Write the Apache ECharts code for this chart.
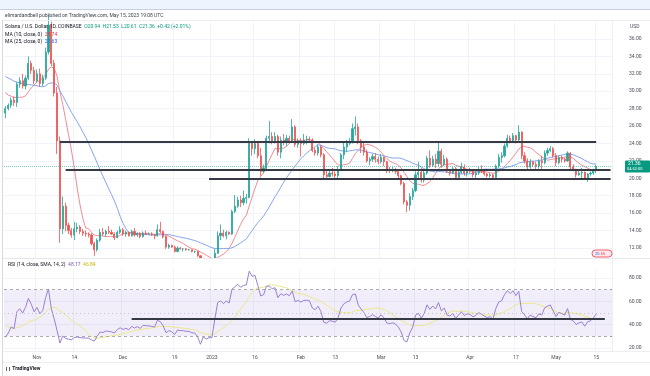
<!DOCTYPE html>
<html>
<head>
<meta charset="utf-8">
<title>Solana / U.S. Dollar, 1D</title>
<script src="https://cdn.jsdelivr.net/npm/echarts@6/dist/echarts.min.js"></script>
<style>
  html, body { margin: 0; padding: 0; background: #fff; }
  #chart { width: 650px; height: 376px; }
</style>
</head>
<body>
<div id="chart"></div>
<script>
// daily candles from 2022-10-21, each row is [open, close, low, high]
var startDay = [2022, 9, 21];
var dayCount = 212; // a few empty days after the last bar
var candles = [
  // Oct 21 - Oct 31
  [27.5,28.0,26.9,28.3],[28.0,28.4,27.8,28.6],[28.4,29.0,28.1,29.3],[29.0,28.7,28.3,29.4],[28.7,30.8,28.2,31.1],
  [30.8,31.2,30.4,31.6],[31.2,30.6,30.3,32.0],[30.6,31.5,30.2,31.8],[31.5,33.2,31.3,34.0],[33.2,32.4,32.0,33.5],
  [32.4,31.2,30.8,32.8],
  // Nov
  [31.2,32.0,31.0,32.5],[32.0,30.9,30.5,32.6],[30.9,31.5,30.6,31.9],[31.5,34.5,31.3,35.0],[34.5,37.6,34.2,38.8],
  [37.6,33.2,32.9,38.0],[33.2,29.8,29.4,33.6],[29.8,24.3,22.8,30.5],[24.3,14.2,12.6,24.8],[14.2,16.8,13.6,17.9],
  [16.8,14.6,13.9,17.2],[14.6,14.0,13.6,14.9],[14.0,13.5,13.2,14.3],[13.5,14.2,12.9,15.0],[14.2,14.4,13.8,14.9],
  [14.4,13.9,13.6,14.6],[13.9,13.7,13.4,14.2],[13.7,13.6,13.3,14.0],[13.6,13.5,13.2,13.8],[13.5,12.5,12.3,13.7],
  [12.5,11.8,11.1,12.7],[11.8,12.9,11.6,13.1],[12.9,13.8,12.7,14.2],[13.8,13.6,13.4,14.3],[13.6,13.9,13.3,14.1],
  [13.9,13.8,13.6,14.5],[13.8,13.6,13.5,14.1],[13.6,13.2,12.9,13.8],[13.2,13.8,13.1,14.0],[13.8,14.1,13.6,14.5],
  // Dec
  [14.1,13.6,13.4,14.3],[13.6,13.8,13.3,14.0],[13.8,13.4,13.3,13.9],[13.4,13.9,13.3,14.1],[13.9,13.5,13.3,14.3],
  [13.5,13.7,13.3,13.8],[13.7,13.3,13.1,13.8],[13.3,13.7,13.2,13.9],[13.7,13.6,13.5,14.0],[13.6,13.6,13.5,13.8],
  [13.6,13.5,13.4,13.8],[13.5,13.4,13.0,13.6],[13.4,14.1,13.3,14.7],[14.1,13.9,13.7,15.0],[13.9,13.3,13.1,14.0],
  [13.3,12.1,11.9,13.4],[12.1,12.3,11.9,12.5],[12.3,12.1,12.0,12.4],[12.1,11.6,11.5,12.3],[11.6,12.0,11.5,12.2],
  [12.0,11.9,11.8,12.1],[11.9,11.9,11.6,12.0],[11.9,11.8,11.7,12.0],[11.8,11.8,11.7,11.9],[11.8,11.6,11.5,11.8],
  [11.6,11.6,11.4,11.7],[11.6,11.1,11.0,11.7],[11.1,9.8,9.7,11.2],[9.8,10.3,8.9,10.5],[10.3,9.9,9.6,10.3],
  [9.9,10.0,9.8,10.2],
  // Jan
  [10.0,10.0,9.8,10.2],[10.0,11.4,9.9,11.9],[11.4,13.4,11.3,13.9],[13.4,13.7,12.9,14.7],[13.7,13.4,13.2,14.1],
  [13.4,13.8,13.0,14.0],[13.8,13.6,13.5,13.9],[13.6,16.2,13.5,16.4],[16.2,16.8,16.0,18.1],[16.8,17.5,16.6,17.9],
  [17.5,17.2,16.7,18.0],[17.2,17.7,16.9,18.6],[17.7,17.8,17.1,18.2],[17.8,24.1,17.7,24.6],[24.1,23.4,22.6,24.3],
  [23.4,24.0,22.8,24.5],[24.0,22.6,22.3,24.3],[22.6,20.8,20.3,23.5],[20.8,21.2,20.6,21.6],[21.2,24.6,21.0,24.9],
  [24.6,24.8,24.0,26.6],[24.8,24.3,23.9,25.3],[24.3,24.8,24.0,25.3],[24.8,23.0,22.6,25.0],[23.0,24.4,22.3,24.8],
  [24.4,24.1,23.8,25.1],[24.1,24.6,23.7,25.0],[24.6,24.3,24.0,24.9],[24.3,25.9,24.1,26.8],[25.9,23.9,23.6,26.1],
  [23.9,24.3,23.5,24.6],
  // Feb
  [24.3,24.0,22.5,24.6],[24.0,24.4,23.8,25.1],[24.4,24.5,23.9,24.9],[24.5,24.4,24.1,24.8],[24.4,23.2,23.0,24.6],
  [23.2,22.9,22.6,23.5],[22.9,23.6,22.6,23.9],[23.6,22.7,22.4,23.8],[22.7,20.4,20.0,22.9],[20.4,20.2,19.9,20.9],
  [20.2,20.6,20.1,20.9],[20.6,20.5,20.2,21.2],[20.5,20.3,19.8,20.8],[20.3,21.0,20.0,21.4],[21.0,22.7,20.9,22.9],
  [22.7,23.6,22.2,24.1],[23.6,24.0,23.0,24.4],[24.0,24.2,23.8,24.6],[24.2,25.7,24.0,26.3],[25.7,25.9,24.9,27.1],
  [25.9,24.3,23.9,26.3],[24.3,23.6,22.9,24.5],[23.6,23.0,22.6,24.1],[23.0,22.0,21.8,23.3],[22.0,22.2,21.5,22.4],
  [22.2,22.5,21.9,22.8],[22.5,22.2,21.8,22.9],[22.2,21.9,21.6,22.5],
  // Mar
  [21.9,22.4,21.7,22.8],[22.4,21.9,21.4,22.5],[21.9,21.0,20.6,22.0],[21.0,20.9,20.6,21.3],[20.9,21.0,20.7,21.3],
  [21.0,20.8,20.5,21.2],[20.8,20.3,19.9,21.0],[20.3,19.4,19.2,20.4],[19.4,17.3,17.0,19.6],[17.3,16.9,16.1,17.5],
  [16.9,17.9,16.3,18.3],[17.9,18.6,17.5,18.9],[18.6,20.4,18.4,20.8],[20.4,20.7,20.0,21.9],[20.7,19.8,19.5,21.2],
  [19.8,20.6,19.5,20.9],[20.6,22.3,20.4,22.6],[22.3,21.5,21.2,23.2],[21.5,22.2,21.3,22.6],[22.2,21.7,21.2,22.8],
  [21.7,23.1,21.4,24.1],[23.1,21.6,21.2,23.4],[21.6,22.2,21.4,22.7],[22.2,20.8,20.6,22.4],[20.8,20.6,20.3,21.0],
  [20.6,21.1,20.5,21.3],[21.1,20.1,19.8,21.3],[20.1,20.7,19.8,20.9],[20.7,21.3,20.5,21.8],[21.3,20.6,20.3,21.6],
  [20.6,20.9,20.2,21.0],
  // Apr
  [20.9,20.8,20.6,21.2],[20.8,20.4,20.1,20.9],[20.4,20.6,20.0,20.9],[20.6,21.0,20.4,21.3],[21.0,20.8,20.6,21.5],
  [20.8,20.5,20.3,20.9],[20.5,20.3,20.1,20.6],[20.3,20.4,20.1,20.6],[20.4,20.1,19.9,20.5],[20.1,21.4,20.0,21.6],
  [21.4,22.4,21.2,22.8],[22.4,22.6,21.8,23.0],[22.6,23.7,22.4,24.0],[23.7,24.6,23.5,25.0],[24.6,24.3,24.0,24.9],
  [24.3,24.9,24.1,25.2],[24.9,24.4,24.0,25.0],[24.4,25.3,24.2,26.1],[25.3,22.6,22.2,25.4],[22.6,22.0,21.7,23.0],
  [22.0,21.3,20.9,22.3],[21.3,21.9,21.1,22.2],[21.9,21.6,21.3,22.0],[21.6,21.4,21.0,21.9],[21.4,22.0,21.1,22.2],
  [22.0,21.8,21.0,22.6],[21.8,22.9,21.6,23.2],[22.9,23.2,22.6,23.5],[23.2,23.4,23.0,23.7],[23.4,22.6,22.4,23.6],
  // May 1 - May 15
  [22.6,21.8,21.4,22.9],[21.8,22.4,21.6,22.6],[22.4,22.2,21.8,22.6],[22.2,22.0,21.8,22.4],[22.0,22.9,21.9,23.1],
  [22.9,21.3,21.0,23.0],[21.3,21.0,20.8,21.6],[21.0,20.4,20.1,21.1],[20.4,20.6,20.3,20.9],[20.6,20.7,20.0,21.2],
  [20.7,20.0,19.8,20.8],[20.0,20.5,19.6,20.6],[20.5,20.6,20.3,20.8],[20.6,20.94,20.4,21.1],[20.94,21.36,20.61,21.53]
];
// closes before the visible window, only used to warm up MA / RSI
var priorCloses = [
  31.5,31.7,31.2,31.7,31.6,30.9,32.5,32.3,34.6,35.4,35.3,35.1,32.2,33.0,31.3,32.1,33.2,31.4,32.1,31.8,
  31.3,33.1,32.9,33.2,32.8,33.2,32.8,33.3,33.6,33.4,33.3,32.6,33.5,34.0,33.4,32.7,32.8,32.7,32.9,31.9,
  31.0,31.1,30.4,30.3,30.4,31.2,30.5,30.0,28.5,28.0
];
var priceTicks = [12,14,16,18,20,22,24,26,28,30,32,34,36];
var rsiTicks = [20,40,60,80];
var tickDates = ['2022-11-01','2022-11-14','2022-12-01','2022-12-19','2023-01-01','2023-01-16','2023-02-01',
                 '2023-02-13','2023-03-01','2023-03-13','2023-04-01','2023-04-17','2023-05-01','2023-05-15'];
var tickLabels = ['Nov','14','Dec','19','2023','16','Feb','13','Mar','13','Apr','17','May','15'];
// hand-drawn levels
var levelPrices = [24.25, 21.0, 19.93];
var levelFrom = ['2022-11-09','2022-11-11','2022-12-31'];
var levelTo = ['2023-05-15','2023-05-20','2023-05-20'];
var rsiLevel = 45, rsiLevelFrom = '2022-12-04', rsiLevelTo = '2023-05-18';

var green = '#26a69a', red = '#ef5350';

// ---- derived ----
var dates = [];
for (var i = 0; i < dayCount; i++) {
  dates.push(new Date(Date.UTC(startDay[0], startDay[1], startDay[2] + i)).toISOString().slice(0, 10));
}
var closes = candles.map(function (c) { return c[1]; });
var all = priorCloses.concat(closes);
var off = priorCloses.length;

function ma(n) {
  return dates.map(function (d, i) {
    if (i >= closes.length) return '-';
    var s = 0;
    for (var k = off + i - n + 1; k <= off + i; k++) s += all[k];
    return +(s / n).toFixed(3);
  });
}
var ma10 = ma(10), ma25 = ma(25);

// RSI 14 (Wilder) + SMA 14 of it
var rsiAll = [], ag = 0, al = 0;
for (var k = 1; k < all.length; k++) {
  var ch = all[k] - all[k - 1], g = Math.max(ch, 0), l = Math.max(-ch, 0);
  if (k <= 14) { ag += g / 14; al += l / 14; }
  else { ag = (ag * 13 + g) / 14; al = (al * 13 + l) / 14; }
  rsiAll[k] = k >= 14 ? (al === 0 ? 100 : 100 - 100 / (1 + ag / al)) : null;
}
var rsi = dates.map(function (d, i) {
  return i < closes.length ? +rsiAll[off + i].toFixed(2) : '-';
});
var rsiMa = dates.map(function (d, i) {
  if (i >= closes.length) return '-';
  var s = 0;
  for (var k = off + i - 13; k <= off + i; k++) s += rsiAll[k];
  return +(s / 14).toFixed(2);
});

var last = candles[candles.length - 1];
var lastClose = last[1];
var prevClose = candles[candles.length - 2][1];

function isTick(idx, val) { return tickDates.indexOf(val) >= 0; }

var chart = echarts.init(document.getElementById('chart'), null, { renderer: 'canvas' });
var font = 'Roboto';

var levelLines = levelPrices.map(function (p, i) {
  return [{ coord: [levelFrom[i], p] }, { coord: [levelTo[i], p] }];
});
levelLines.push({
  yAxis: lastClose,
  lineStyle: { color: green, type: 'dotted', width: 1, opacity: 0.55 }
});

var option = {
  animation: false,
  backgroundColor: '#fff',
  grid: [
    { left: 4, top: 22, width: 608, height: 236 },
    { left: 4, top: 259, width: 608, height: 92 }
  ],
  xAxis: [
    {
      type: 'category', gridIndex: 0, data: dates, boundaryGap: true,
      axisLine: { show: false }, axisTick: { show: false }, axisLabel: { show: false },
      splitLine: { show: true, interval: isTick, lineStyle: { color: '#f0f3fa', width: 1 } }
    },
    {
      type: 'category', gridIndex: 1, data: dates, boundaryGap: true,
      axisLine: { show: false }, axisTick: { show: false },
      axisLabel: {
        interval: isTick, margin: 4, fontSize: 5, fontFamily: font, color: '#4a4e59',
        formatter: function (v) { return tickLabels[tickDates.indexOf(v)]; }
      },
      splitLine: { show: true, interval: isTick, lineStyle: { color: '#f0f3fa', width: 1 } }
    }
  ],
  yAxis: [
    {
      type: 'value', gridIndex: 0, position: 'right', min: 10.85, max: 37.95, scale: true,
      axisLine: { show: false }, axisTick: { show: false, customValues: priceTicks },
      axisLabel: {
        customValues: priceTicks, margin: 17, fontSize: 5, fontFamily: font, color: '#4a4e59',
        formatter: function (v) { return v.toFixed(2); }
      },
      splitLine: { show: true, lineStyle: { color: '#f0f3fa', width: 1 } }
    },
    {
      type: 'value', gridIndex: 1, position: 'right', min: 17.43, max: 96.3,
      axisLine: { show: false }, axisTick: { show: false, customValues: rsiTicks },
      axisLabel: {
        customValues: rsiTicks, margin: 17, fontSize: 5, fontFamily: font, color: '#4a4e59',
        formatter: function (v) { return v.toFixed(2); }
      },
      splitLine: { show: true, lineStyle: { color: '#f0f3fa', width: 1 } }
    }
  ],
  series: [
    {
      name: 'SOL', type: 'candlestick', xAxisIndex: 0, yAxisIndex: 0, data: candles, clip: true,
      barWidth: 1.6, z: 1,
      itemStyle: { color: green, color0: red, borderColor: green, borderColor0: red, borderWidth: 0.8 },
      markLine: {
        silent: true, symbol: 'none', animation: false,
        label: { show: false },
        lineStyle: { color: '#363a45', width: 2, type: 'solid' },
        data: levelLines
      }
    },
    {
      name: 'MA10', type: 'line', xAxisIndex: 0, yAxisIndex: 0, data: ma10, showSymbol: false,
      lineStyle: { color: '#f28b91', width: 1 }, z: 1
    },
    {
      name: 'MA25', type: 'line', xAxisIndex: 0, yAxisIndex: 0, data: ma25, showSymbol: false,
      lineStyle: { color: '#85a5ee', width: 1 }, z: 1
    },
    {
      name: 'RSI', type: 'line', xAxisIndex: 1, yAxisIndex: 1, data: rsi, showSymbol: false,
      lineStyle: { color: '#9a7fd4', width: 1 }, z: 4,
      markArea: {
        silent: true,
        itemStyle: { color: 'rgba(126,87,194,0.1)' },
        data: [[{ yAxis: 30 }, { yAxis: 70 }]]
      },
      markLine: {
        silent: true, symbol: 'none', animation: false, label: { show: false },
        data: [
          { yAxis: 70, lineStyle: { color: '#9598a1', type: [3, 3], width: 0.8 } },
          { yAxis: 50, lineStyle: { color: '#b2b5be', type: [1, 3], width: 0.8 } },
          { yAxis: 30, lineStyle: { color: '#9598a1', type: [3, 3], width: 0.8 } },
          [{ coord: [rsiLevelFrom, rsiLevel], lineStyle: { color: '#363a45', width: 2, type: 'solid' } },
           { coord: [rsiLevelTo, rsiLevel] }]
        ]
      }
    },
    {
      name: 'RSI MA', type: 'line', xAxisIndex: 1, yAxisIndex: 1, data: rsiMa, showSymbol: false,
      lineStyle: { color: '#ece78c', width: 1 }, z: 3
    }
  ]
};
chart.setOption(option);

// overlays: header, legends, price tag
var tagY = chart.convertToPixel({ yAxisIndex: 0 }, lastClose);
var chg = lastClose - prevClose;
var maLast10 = ma10[closes.length - 1], maLast25 = ma25[closes.length - 1];
var txt = function (x, y, text, extra) {
  var st = { text: text, fontSize: 5, fontFamily: font, fill: '#131722', verticalAlign: 'middle' };
  for (var key in extra || {}) st[key] = extra[key];
  return { type: 'text', x: x, y: y, style: st, z: 100 };
};
chart.setOption({
  graphic: [
    // hides the part of the price pane that spills below its bottom edge
    { type: 'rect', shape: { x: 3, y: 258.5, width: 609, height: 10 }, style: { fill: '#fff' }, z: 2 },
    { type: 'rect', shape: { x: 0, y: 0, width: 650, height: 9 }, style: { fill: '#eef4fd' }, z: 90 },
    { type: 'line', shape: { x1: 0, y1: 9.5, x2: 650, y2: 9.5 }, style: { stroke: '#c5d0e0', lineWidth: 1 }, z: 90 },
    { type: 'line', shape: { x1: 2.5, y1: 20, x2: 2.5, y2: 376 }, style: { stroke: '#d6d9e0', lineWidth: 1 }, z: 90 },
    { type: 'line', shape: { x1: 3, y1: 20.5, x2: 650, y2: 20.5 }, style: { stroke: '#eceef3', lineWidth: 1 }, z: 90 },
    { type: 'line', shape: { x1: 3, y1: 258.5, x2: 650, y2: 258.5 }, style: { stroke: '#e6e8ee', lineWidth: 1 }, z: 90 },
    { type: 'line', shape: { x1: 612.5, y1: 21, x2: 612.5, y2: 351 }, style: { stroke: '#eceef3', lineWidth: 1 }, z: 90 },
    { type: 'line', shape: { x1: 3, y1: 351.5, x2: 650, y2: 351.5 }, style: { stroke: '#eceef3', lineWidth: 1 }, z: 90 },
    { type: 'line', shape: { x1: 3, y1: 362.5, x2: 650, y2: 362.5 }, style: { stroke: '#eceef3', lineWidth: 1 }, z: 90 },
    txt(5, 15.5, 'elimardandbell published on TradingView.com, May 15, 2023 19:08 UTC', { fill: '#3a3e4a' }),
    txt(5, 27, '{a|Solana / U.S. Dollar, 1D, COINBASE}  {g|O' + last[0].toFixed(2) + '  H' + last[3].toFixed(2) +
      '  L' + last[2].toFixed(2) + '  C' + lastClose.toFixed(2) + '  +' + chg.toFixed(2) + ' (+' +
      (chg / prevClose * 100).toFixed(2) + '%)}', {
      rich: {
        a: { fontSize: 5, fontFamily: font, fill: '#131722' },
        g: { fontSize: 5, fontFamily: font, fill: '#089981' }
      }
    }),
    txt(5, 34.5, '{a|MA (10, close, 0)}  {v|' + maLast10.toFixed(2) + '}', {
      rich: { a: { fontSize: 5, fontFamily: font, fill: '#131722' }, v: { fontSize: 5, fontFamily: font, fill: '#f23645' } }
    }),
    txt(5, 42, '{a|MA (25, close, 0)}  {v|' + maLast25.toFixed(2) + '}', {
      rich: { a: { fontSize: 5, fontFamily: font, fill: '#131722' }, v: { fontSize: 5, fontFamily: font, fill: '#2962ff' } }
    }),
    txt(8, 264.5, '{a|RSI (14, close, SMA, 14, 2)}  {p|48.17}  {y|46.84}', {
      rich: {
        a: { fontSize: 5, fontFamily: font, fill: '#131722' },
        p: { fontSize: 5, fontFamily: font, fill: '#7e57c2' },
        y: { fontSize: 5, fontFamily: font, fill: '#c9b800' }
      }
    }),
    txt(630, 27, 'USD', { fill: '#4a4e59' }),
    {
      type: 'rect', shape: { x: 625, y: tagY - 6, width: 25, height: 12, r: 1 },
      style: { fill: '#089981' }, z: 100
    },
    txt(628, tagY - 2.5, lastClose.toFixed(2), { fill: '#fff', fontSize: 5 }),
    txt(627, tagY + 3, '04:52:00', { fill: '#fff', fontSize: 4 }),
    {
      type: 'rect', shape: { x: 592, y: 250, width: 20, height: 7, r: 3.5 },
      style: { fill: '#fde9eb', stroke: '#f23645', lineWidth: 0.8 }, z: 100
    },
    txt(595, 253.5, '{b|20}{r|.55}', {
      rich: { b: { fontSize: 4, fill: '#2962ff', fontFamily: font }, r: { fontSize: 4, fill: '#f23645', fontFamily: font } }
    }),
    txt(5, 369, '{i|\u2759\u2759}{t| TradingView}', {
      rich: {
        i: { fontSize: 4, fill: '#131722', fontFamily: font },
        t: { fontSize: 5, fill: '#131722', fontFamily: font, fontWeight: 'bold' }
      }
    })
  ]
});
</script>
</body>
</html>
